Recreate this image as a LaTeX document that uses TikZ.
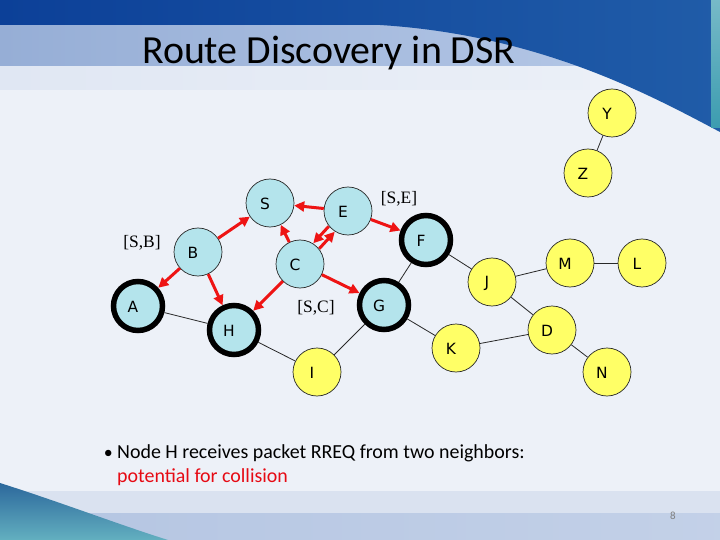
\documentclass[tikz,border=0pt]{standalone}
\usepackage{fontspec}
\setmainfont{Carlito}
\newfontfamily\nodefont{DejaVu Sans}
\newfontfamily\labserif{Liberation Serif}
\usetikzlibrary{arrows.meta,calc}
\definecolor{topblueA}{RGB}{12,64,152}
\definecolor{topblueB}{RGB}{32,92,168}
\definecolor{bandA}{RGB}{150,174,214}
\definecolor{bandB}{RGB}{184,202,232}
\definecolor{contentbg}{RGB}{237,241,248}
\definecolor{botlight}{RGB}{218,226,240}
\definecolor{botmid}{RGB}{180,197,226}
\definecolor{wedge}{RGB}{44,104,156}
\definecolor{tealstrip}{RGB}{60,156,176}
\definecolor{nodeblue}{RGB}{180,228,236}
\definecolor{nodeyellow}{RGB}{255,255,102}
\definecolor{edgegray}{RGB}{40,40,40}
\definecolor{arrred}{RGB}{238,20,20}
\definecolor{txtred}{RGB}{230,10,20}
\begin{document}
\begin{tikzpicture}[x=1bp,y=-1bp,
  basenode/.style={circle, minimum size=48bp, inner sep=0pt, draw=edgegray, line width=0.7bp,
    label={[font=\nodefont\fontsize{15.5}{15.5}\selectfont, xshift=-5bp, yshift=-1bp]center:#1}},
  bnode/.style={basenode=#1, fill=nodeblue},
  bthick/.style={basenode=#1, fill=nodeblue, draw=black, line width=5.5bp, minimum size=49bp},
  ynode/.style={basenode=#1, fill=nodeyellow},
  link/.style={draw=edgegray, line width=0.8bp},
  redarrow/.style={draw=arrred, line width=3bp, -{Triangle[length=10bp,width=10bp]}},
  brlabel/.style={font=\labserif\fontsize{17.5}{17.5}\selectfont, inner sep=0pt}
]
\useasboundingbox (0,0) rectangle (720,540);
% background
\fill[contentbg] (0,0) rectangle (720,540);
\shade[left color=bandA, right color=bandB] (0,25) rectangle (720,67);
\shade[left color=contentbg!85!bandA, right color=contentbg] (0,67) rectangle (720,90);
\fill[contentbg] (590,67) rectangle (720,140);
\shade[left color=topblueA, right color=topblueB]
  (0,0) -- (720,0) -- (720,132) .. controls (650,95) and (540,35) .. (380,25) -- (0,25) -- cycle;
\shade[top color=tealstrip!70!white, bottom color=tealstrip] (711,0) rectangle (720,128);
\fill[botlight] (0,491) rectangle (720,513);
\shade[left color=botmid, right color=botmid!80!white] (0,513) rectangle (720,540);
\shade[top color=wedge, bottom color=tealstrip!80!white]
  (0,483) .. controls (60,502) and (120,525) .. (168,540) -- (0,540) -- cycle;
% title
\node[anchor=base west, inner sep=0pt, font=\fontsize{40}{42}\selectfont] (title) at (142,64) {Route Discovery in DSR};
% nodes
\node[bnode=S] (S) at (270,203) {};
\node[bnode=B] (B) at (198,252) {};
\node[bthick=A] (A) at (138,306) {};
\node[bthick=H] (H) at (234,330) {};
\node[bnode=C] (C) at (300,264) {};
\node[bnode=E] (E) at (348,211) {};
\node[bthick=F] (F) at (426,240) {};
\node[bthick=G] (G) at (384,305) {};
\node[ynode=I] (I) at (317,372) {};
\node[ynode=K] (K) at (456,348) {};
\node[ynode=J] (J) at (492,282) {};
\node[ynode=M] (M) at (570,263) {};
\node[ynode=L] (L) at (642,263) {};
\node[ynode=D] (D) at (552,330) {};
\node[ynode=N] (N) at (607,372) {};
\node[ynode=Y] (Y) at (612,113) {};
\node[ynode=Z] (Z) at (588,173) {};
% links
\draw[link] (A) -- (H);
\draw[link] (H) -- (I);
\draw[link] (I) -- (G);
\draw[link] (G) -- (F);
\draw[link] (F) -- (J);
\draw[link] (J) -- (M);
\draw[link] (M) -- (L);
\draw[link] (J) -- (D);
\draw[link] (D) -- (K);
\draw[link] (K) -- (G);
\draw[link] (D) -- (N);
\draw[link] (Y) -- (Z);
% red arrows
\draw[redarrow] (B) -- (S);
\draw[redarrow] (B) -- (A);
\draw[redarrow] (B) -- (H);
\draw[redarrow] (C) -- (S);
\draw[redarrow] (C) -- (H);
\draw[redarrow] (C) -- (G);
\draw[redarrow] (E) -- (S);
\draw[redarrow] (E) -- (F);
\draw[redarrow] ([shift={(-3,-2.7)}]E.228) -- ([shift={(-3,-2.7)}]C.48);
\draw[redarrow] ([shift={(3,2.7)}]C.48) -- ([shift={(3,2.7)}]E.228);
% bracket labels
\node[brlabel] (lSB) at (142,243) {[S,B]};
\node[brlabel] (lSE) at (399,199) {[S,E]};
\node[brlabel] (lSC) at (316,308) {[S,C]};
% bullet text
\node[anchor=base east, inner sep=0pt, font=\fontsize{18}{20}\selectfont] (bul) at (113,458) {•};
\node[anchor=base west, inner sep=0pt, font=\fontsize{20}{24}\selectfont] (b1) at (117,458) {Node H receives packet RREQ from two neighbors:};
\node[anchor=base west, inner sep=0pt, font=\fontsize{20}{24}\selectfont, text=txtred] (b2) at (117,482) {potential for collision};
% page number
\node[inner sep=0pt, font=\fontsize{11}{11}\selectfont, text=gray] (pg) at (673,516) {8};
\end{tikzpicture}
\end{document}
